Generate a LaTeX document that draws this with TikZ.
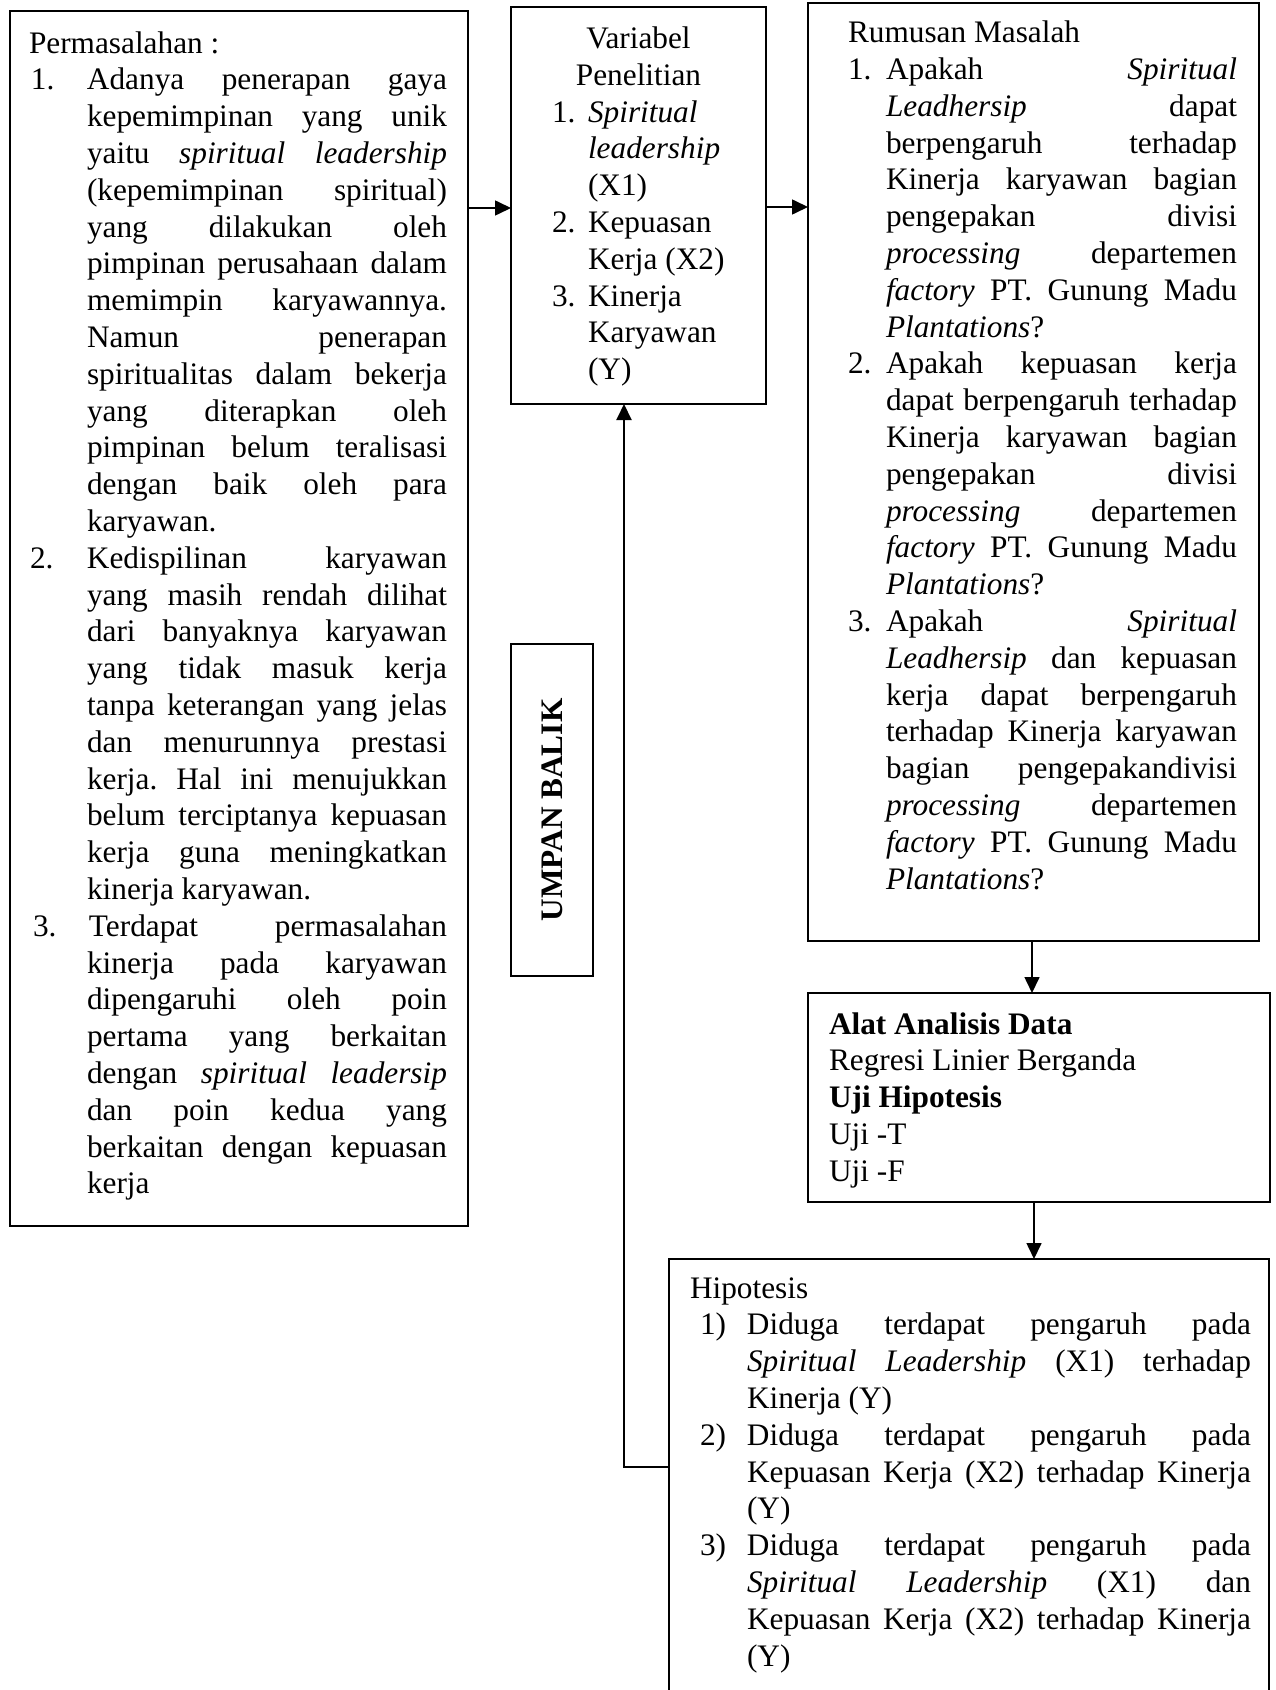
\documentclass[tikz,border=0pt]{standalone}
\usepackage{fontspec}
\setmainfont{Liberation Serif}
\usetikzlibrary{arrows.meta}
\newlength\labx
\newlength\indx
\newcommand\mystrut{\vrule height 13pt depth 5.4pt width 0pt}
\newcommand\jsp{\spaceskip=\fontdimen2\font plus 1fil minus \fontdimen4\font\relax}
\newcommand\lnH[1]{\par\noindent\hbox to\hsize{\mystrut #1\hfil}}
\newcommand\lnC[1]{\par\noindent\hbox to\hsize{\mystrut\hfil #1\hfil}}
\newcommand\itmJ[2]{\par\noindent\hbox to\hsize{\mystrut\jsp\rlap{\hskip\labx\relax #1}\hskip\indx\relax #2}}
\newcommand\itmL[2]{\par\noindent\hbox to\hsize{\mystrut\rlap{\hskip\labx\relax #1}\hskip\indx\relax #2\hfil}}
\newcommand\lnJ[1]{\par\noindent\hbox to\hsize{\mystrut\jsp\hskip\indx\relax #1}}
\newcommand\lnL[1]{\par\noindent\hbox to\hsize{\mystrut\hskip\indx\relax #1\hfil}}
\frenchspacing
\begin{document}
\begin{tikzpicture}[x=0.5pt,y=-0.5pt,
  font=\fontsize{15.65pt}{18.4pt}\selectfont,
  box/.style={draw, line width=0.7pt, anchor=north west, inner sep=0pt, outer sep=0pt},
  txt/.style={anchor=north west, inner sep=0pt, outer sep=0pt},
  arr/.style={line width=0.8pt, -{Triangle[length=8pt,width=7.5pt]}},
  fb/.style={line width=1pt, -{Triangle[length=8pt,width=7.5pt]}}]
\clip (0,0) rectangle (1275,1690);
\fill[white] (0,0) rectangle (1275,1690);

% boxes
\node[box, minimum width=229pt, minimum height=607.5pt] (b1) at (10,11) {};
\node[box, minimum width=127.5pt, minimum height=198.5pt] (b2) at (511,7) {};
\node[box, minimum width=225.5pt, minimum height=469pt] (b3) at (808,3) {};
\node[box, minimum width=231pt, minimum height=104.5pt] (b4) at (808,993) {};
\node[box, minimum width=300pt, minimum height=240pt] (b5) at (669,1259) {};
\node[box, minimum width=41pt, minimum height=166pt] (ub) at (511,644) {};
\node[rotate=90, inner sep=0pt] (ubt) at (ub.center) {\bfseries UMPAN BALIK};

% texts
\node[txt] (t1) at (29,27) {\vbox{\hsize=209pt
\setlength\indx{29pt}%
\lnH{Permasalahan :}
\setlength\labx{1pt}%
\itmJ{1.}{Adanya penerapan gaya}
\lnJ{kepemimpinan yang unik}
\lnJ{yaitu \textit{spiritual leadership}}
\lnJ{(kepemimpinan spiritual)}
\lnJ{yang dilakukan oleh}
\lnJ{pimpinan perusahaan dalam}
\lnJ{memimpin karyawannya.}
\lnJ{Namun penerapan}
\lnJ{spiritualitas dalam bekerja}
\lnJ{yang diterapkan oleh}
\lnJ{pimpinan belum teralisasi}
\lnJ{dengan baik oleh para}
\lnL{karyawan.}
\setlength\labx{0.5pt}%
\itmJ{2.}{Kedispilinan karyawan}
\lnJ{yang masih rendah dilihat}
\lnJ{dari banyaknya karyawan}
\lnJ{yang tidak masuk kerja}
\lnJ{tanpa keterangan yang jelas}
\lnJ{dan menurunnya prestasi}
\lnJ{kerja. Hal ini menujukkan}
\lnJ{belum terciptanya kepuasan}
\lnJ{kerja guna meningkatkan}
\lnL{kinerja karyawan.}
\setlength\labx{2pt}%
\itmJ{3.}{\hskip1pt Terdapat permasalahan}
\lnJ{kinerja pada karyawan}
\lnJ{dipengaruhi oleh poin}
\lnJ{pertama yang berkaitan}
\lnJ{dengan \textit{spiritual leadersip}}
\lnJ{dan poin kedua yang}
\lnJ{berkaitan dengan kepuasan}
\lnL{kerja}
}};

\node[txt] (t2) at (511,22.5) {\vbox{\hsize=127.5pt
\setlength\labx{20.5pt}\setlength\indx{38.5pt}%
\lnC{Variabel}
\lnC{Penelitian}
\itmL{1.}{\textit{Spiritual}}
\lnL{\textit{leadership}}
\lnL{(X1)}
\itmL{2.}{Kepuasan}
\lnL{Kerja (X2)}
\itmL{3.}{Kinerja}
\lnL{Karyawan}
\lnL{(Y)}
}};

\node[txt] (t3) at (848,16.7) {\vbox{\hsize=194.5pt
\setlength\labx{0pt}\setlength\indx{19pt}%
\lnH{Rumusan Masalah}
\itmJ{1.}{Apakah \textit{Spiritual}}
\lnJ{\textit{Leadhersip} dapat}
\lnJ{berpengaruh terhadap}
\lnJ{Kinerja karyawan bagian}
\lnJ{pengepakan divisi}
\lnJ{\textit{processing} departemen}
\lnJ{\textit{factory} PT. Gunung Madu}
\lnL{\textit{Plantations}?}
\itmJ{2.}{Apakah kepuasan kerja}
\lnJ{dapat berpengaruh terhadap}
\lnJ{Kinerja karyawan bagian}
\lnJ{pengepakan divisi}
\lnJ{\textit{processing} departemen}
\lnJ{\textit{factory} PT. Gunung Madu}
\lnL{\textit{Plantations}?}
\itmJ{3.}{Apakah \textit{Spiritual}}
\lnJ{\textit{Leadhersip} dan kepuasan}
\lnJ{kerja dapat berpengaruh}
\lnJ{terhadap Kinerja karyawan}
\lnJ{bagian pengepakandivisi}
\lnJ{\textit{processing} departemen}
\lnJ{\textit{factory} PT. Gunung Madu}
\lnL{\textit{Plantations}?}
}};

\node[txt] (t4) at (829,1008) {\vbox{\hsize=215pt
\lnH{\textbf{Alat Analisis Data}}
\lnH{Regresi Linier Berganda}
\lnH{\textbf{Uji Hipotesis}}
\lnH{Uji -T}
\lnH{Uji -F}
}};

\node[txt] (t5) at (690,1272) {\vbox{\hsize=280.5pt
\setlength\labx{5pt}\setlength\indx{28.5pt}%
\lnH{Hipotesis}
\itmJ{1)}{Diduga terdapat pengaruh pada}
\lnJ{\textit{Spiritual Leadership} (X1) terhadap}
\lnL{Kinerja (Y)}
\itmJ{2)}{Diduga terdapat pengaruh pada}
\lnJ{Kepuasan Kerja (X2) terhadap Kinerja}
\lnL{(Y)}
\itmJ{3)}{Diduga terdapat pengaruh pada}
\lnJ{\textit{Spiritual Leadership} (X1) dan}
\lnJ{Kepuasan Kerja (X2) terhadap Kinerja}
\lnL{(Y)}
}};

% connectors
\coordinate (r1) at (0,208);
\coordinate (r2) at (0,207);
\coordinate (r3) at (1032,0);
\coordinate (r4) at (1034,0);
\coordinate (fbc) at (624,1467);
\draw[arr] (b1.east |- r1) -- (b2.west |- r1);
\draw[arr] (b2.east |- r2) -- (b3.west |- r2);
\draw[arr] (b3.south -| r3) -- (b4.north -| r3);
\draw[arr] (b4.south -| r4) -- (b5.north -| r4);
\draw[fb] (b5.west |- fbc) -- (fbc) -- (fbc |- b2.south);
\end{tikzpicture}
\end{document}
